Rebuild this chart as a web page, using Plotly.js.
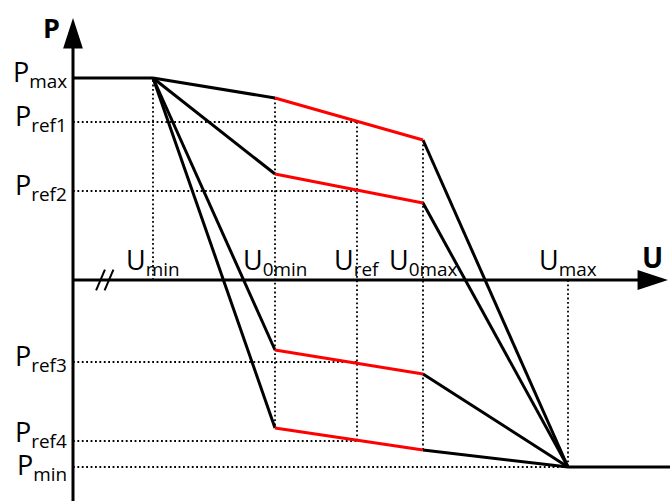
<!DOCTYPE html>
<html>
<head>
<meta charset="utf-8">
<script src="https://cdn.plot.ly/plotly-3.0.1.min.js"></script>
<style>
  html, body { margin: 0; padding: 0; background: #fff; }
  #chart { width: 670px; height: 501px; }
</style>
</head>
<body>
<div id="chart"></div>
<script>
// voltage points on the U axis (arbitrary units, origin at the P axis)
const uLabels = ['U<sub>min</sub>', 'U<sub>0min</sub>', 'U<sub>ref</sub>', 'U<sub>0max</sub>', 'U<sub>max</sub>'];
const uVals = [8.0, 20.2, 28.4, 35.0, 49.5];

// power levels on the P axis
const pLabels = ['P<sub>max</sub>', 'P<sub>ref1</sub>', 'P<sub>ref2</sub>', 'P<sub>ref3</sub>', 'P<sub>ref4</sub>', 'P<sub>min</sub>'];
const pVals = [20.2, 15.8, 8.9, -8.2, -16.1, -18.7];

// droop curves, one per Pref: P at U0min and at U0max
const pAtU0min = [18.2, 10.6, -7.0, -14.8];
const pAtU0max = [14.0, 7.7, -9.4, -17.0];

// axis break marks on the U axis
const uBreaks = [2.75, 3.6];

const uRange = [-7.3, 59.7];
const pRange = [-22.1, 28.0];
const uAxisEnd = 59.5;
const pAxisTop = 26.2;

const [uMin, u0Min, uRef, u0Max, uMax] = uVals;
const [pMax, pRef1, pRef2, pRef3, pRef4, pMin] = pVals;

const FONT = '"Open Sans", "Noto Sans", sans-serif';
const labelShift = [5, 5, 5, 5, 8, 1];

function seg(list, color, width, dash) {
  // list of [[x0,y0],[x1,y1]] pairs joined into one trace with gaps
  const x = [], y = [];
  for (const s of list) { x.push(s[0][0], s[1][0], null); y.push(s[0][1], s[1][1], null); }
  return { x, y, type: 'scatter', mode: 'lines', hoverinfo: 'skip', showlegend: false,
    connectgaps: false, line: { color, width, dash } };
}

// dotted guide lines
const guides = [
  [[uMin, 0], [uMin, pMax]],
  [[u0Min, pAtU0min[0]], [u0Min, pAtU0min[3]]],
  [[uRef, pRef1], [uRef, pRef4]],
  [[u0Max, pAtU0max[0]], [u0Max, pAtU0max[3]]],
  [[uMax, 0], [uMax, pMin]],
  [[0, pRef1], [uRef, pRef1]],
  [[0, pRef2], [uRef, pRef2]],
  [[0, pRef3], [uRef, pRef3]],
  [[0, pRef4], [uRef, pRef4]],
  [[0, pMin], [uMax, pMin]],
];

const black = [[[0, pMax], [uMin, pMax]], [[uMax, pMin], [uRange[1], pMin]]];
const red = [];
for (let i = 0; i < pAtU0min.length; i++) {
  black.push([[uMin, pMax], [u0Min, pAtU0min[i]]]);
  black.push([[u0Max, pAtU0max[i]], [uMax, pMin]]);
  red.push([[u0Min, pAtU0min[i]], [u0Max, pAtU0max[i]]]);
}

const axes = [
  [[0, pRange[0]], [0, pAxisTop - 1.5]],
  [[0, 0], [uAxisEnd - 1.5, 0]],
];

const data = [
  seg(guides, '#000', 1.8, '1.8px,2.6px'),
  seg(axes, '#000', 3),
  seg(black, '#000', 3),
  seg(red, '#ff0000', 3),
  { x: [0], y: [pAxisTop], type: 'scatter', mode: 'markers', hoverinfo: 'skip', showlegend: false,
    marker: { symbol: 'arrow', size: 32, angle: 0, color: '#000', line: { width: 0 } } },
  { x: [uAxisEnd], y: [0], type: 'scatter', mode: 'markers', hoverinfo: 'skip', showlegend: false,
    marker: { symbol: 'arrow', size: 32, angle: 90, color: '#000', line: { width: 0 } } },
  { x: uBreaks, y: uBreaks.map(() => 0), type: 'scatter', mode: 'markers', hoverinfo: 'skip', showlegend: false,
    marker: { symbol: 'line-ne', size: 16, angle: -22, color: '#000', line: { width: 2, color: '#000' } } },
];

const annotations = [];
pLabels.forEach((t, i) => annotations.push({
  x: 0, y: pVals[i], xref: 'x', yref: 'y', text: t, showarrow: false,
  xanchor: 'right', yanchor: 'middle', xshift: -4, yshift: labelShift[i],
  font: { family: FONT, size: 27, color: '#000' } }));
uLabels.forEach((t, i) => annotations.push({
  x: uVals[i], y: 0, xref: 'x', yref: 'y', text: t, showarrow: false,
  xanchor: 'center', yanchor: 'bottom', yshift: -4, font: { family: FONT, size: 27, color: '#000' } }));
annotations.push(
  { x: 0, y: pAxisTop, text: '<b>P</b>', showarrow: false, xanchor: 'right', yanchor: 'top',
    xshift: -11, yshift: 11, font: { family: FONT, size: 27, color: '#000' } },
  { x: uAxisEnd, y: 0, text: '<b>U</b>', showarrow: false, xanchor: 'right', yanchor: 'bottom',
    xshift: -3, yshift: 2, font: { family: FONT, size: 28, color: '#000' } }
);

const layout = {
  width: 670, height: 501,
  margin: { l: 0, r: 0, t: 0, b: 0 },
  paper_bgcolor: '#fff', plot_bgcolor: '#fff',
  xaxis: { range: uRange, visible: false, fixedrange: true },
  yaxis: { range: pRange, visible: false, fixedrange: true },
  annotations,
  showlegend: false,
};

Plotly.newPlot('chart', data, layout, { staticPlot: true, displayModeBar: false });
</script>
</body>
</html>
